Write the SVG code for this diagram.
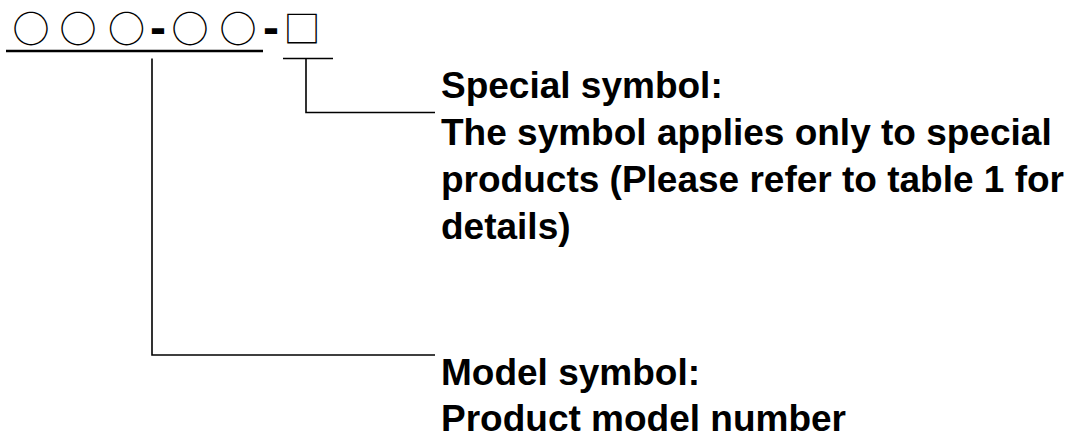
<svg xmlns="http://www.w3.org/2000/svg" width="1077" height="443" viewBox="0 0 1077 443">
<style>
.lbl{font-family:"Liberation Sans",Arial,sans-serif;font-weight:bold;font-size:37px;fill:#000}
.sym{font-family:"Noto Sans CJK JP","Noto Sans CJK SC",sans-serif;font-size:37px;fill:#000;text-anchor:middle}
.dash{font-family:"Liberation Sans",Arial,sans-serif;font-weight:bold;font-size:48px}
.ln{stroke:#000;stroke-width:1.6;fill:none}
</style>
<rect width="1077" height="443" fill="#fff"/>
<g id="code">
<text class="sym" y="43.2"><tspan x="31 78 126.5">○○○</tspan><tspan class="dash" x="158" y="44">-</tspan><tspan x="190 238" y="43.2">○○</tspan><tspan class="dash" x="271" y="44">-</tspan><tspan x="302" y="43.2">□</tspan></text>
<line x1="6" y1="51" x2="263" y2="51" stroke="#000" stroke-width="2.4"/>
<line class="ln" x1="283" y1="58.5" x2="333" y2="58.5"/>
</g>
<g id="connectors">
<polyline class="ln" points="306,58.5 306,112.5 435,112.5"/>
<polyline class="ln" points="152,58.5 152,355 435,355"/>
</g>
<g id="special">
<text class="lbl" x="441" y="98">Special symbol:</text>
<text class="lbl" x="441" y="145">The symbol applies only to special</text>
<text class="lbl" x="441" y="192">products (Please refer to table 1 for</text>
<text class="lbl" x="441" y="239">details)</text>
</g>
<g id="model">
<text class="lbl" x="441" y="385">Model symbol:</text>
<text class="lbl" x="441" y="431">Product model number</text>
</g>
</svg>
